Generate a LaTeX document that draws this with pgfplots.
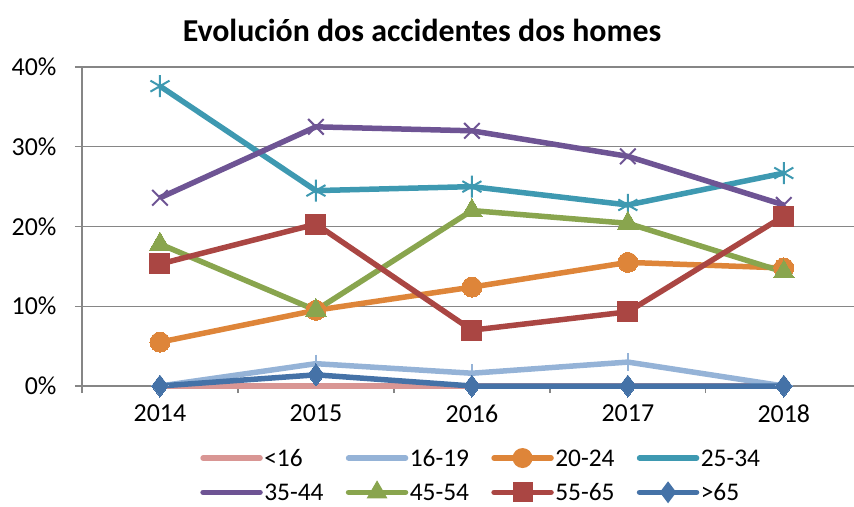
\documentclass[border=0pt]{standalone}
\usepackage{fontspec}
\setmainfont{Carlito}
\usepackage{pgfplots}
\pgfplotsset{compat=1.18}
\definecolor{cA}{HTML}{D99694}
\definecolor{cB}{HTML}{95B3D7}
\definecolor{cC}{HTML}{DE8539}
\definecolor{cD}{HTML}{3E99B1}
\definecolor{cE}{HTML}{6E5494}
\definecolor{cF}{HTML}{89A54E}
\definecolor{cG}{HTML}{AA4643}
\definecolor{cH}{HTML}{4572A7}
\definecolor{gridc}{HTML}{868686}
\begin{document}
\begin{tikzpicture}
\useasboundingbox (-82bp,-121bp) rectangle (772bp,386bp);
\begin{axis}[
  at={(0,0)}, anchor=south west,
  scale only axis, width=772bp, height=319bp,
  xmin=-0.5, xmax=4.45, ymin=0, ymax=40,
  clip=false,
  axis x line=bottom, axis y line=left,
  axis line style={-, draw=gridc, line width=1.3bp},
  ymajorgrids, grid style={draw=gridc, line width=1.3bp},
  ytick={0,10,20,30,40},
  yticklabel={\pgfmathprintnumber{\tick}\%},
  xtick={-0.5,0.5,1.5,2.5,3.5},
  xticklabels={},
  extra x ticks={0,1,2,3,4},
  extra x tick labels={2014,2015,2016,2017,2018},
  extra x tick style={major tick length=0pt},
  tick align=outside,
  major tick length=7bp,
  tick style={draw=gridc, line width=1.3bp},
  /pgf/number format/assume math mode=true,
  tick label style={font=\fontsize{26}{30}\selectfont},
  xticklabel style={yshift=-15bp},
  yticklabel style={xshift=-15bp},
  every axis plot/.append style={line width=5.5bp, line join=round},
  legend columns=4,
  legend style={at={(0.153,-0.19)}, anchor=north west, draw=none, fill=none,
    font=\fontsize{25.5}{30}\selectfont, inner sep=0pt, row sep=11bp,
    nodes={inner sep=1.5bp},
    /tikz/every even column/.append style={text width=80bp, align=left, text height=18bp, text depth=6bp}},
  legend cell align=left,
  legend image code/.code={%
    \draw[#1, line cap=round] (0bp,0bp) -- (57bp,0bp);
    \draw[#1, mark repeat=2, mark phase=2, draw opacity=0] plot coordinates {(0bp,0bp) (28.5bp,0bp) (57bp,0bp)};
  },
]
\addplot[cA, no markers] coordinates {(0,0) (1,0) (2,0) (3,0) (4,0)};
\addlegendentry{<16}
\addplot[cB, mark=+, mark size=9bp, mark options={line width=1.5bp}] coordinates {(0,0) (1,2.8) (2,1.6) (3,3.0) (4,0)};
\addlegendentry{16-19}
\addplot[cC, mark=*, mark size=10bp, mark options={line width=0pt}] coordinates {(0,5.5) (1,9.5) (2,12.4) (3,15.5) (4,14.8)};
\addlegendentry{20-24}
\addplot[cD, mark=asterisk, mark size=11bp, mark options={line width=2bp}] coordinates {(0,37.6) (1,24.5) (2,25.0) (3,22.7) (4,26.7)};
\addlegendentry{25-34}
\addplot[cE, mark=x, mark size=11bp, mark options={line width=2bp}] coordinates {(0,23.6) (1,32.5) (2,32.0) (3,28.8) (4,22.7)};
\addlegendentry{35-44}
\addplot[cF, mark=triangle*, mark size=12bp, mark options={line width=0pt}] coordinates {(0,17.8) (1,9.5) (2,22.0) (3,20.4) (4,14.3)};
\addlegendentry{45-54}
\addplot[cG, mark=square*, mark size=10bp, mark options={line width=0pt}] coordinates {(0,15.3) (1,20.3) (2,7.0) (3,9.3) (4,21.3)};
\addlegendentry{55-65}
\addplot[cH, mark=diamond*, mark size=11bp, mark options={line width=0pt}] coordinates {(0,0) (1,1.4) (2,0) (3,0) (4,0)};
\addlegendentry{>65}
\end{axis}
\node[font=\fontsize{32}{38}\selectfont\bfseries] at (340bp,356bp) {Evolución dos accidentes dos homes};
\end{tikzpicture}
\end{document}
